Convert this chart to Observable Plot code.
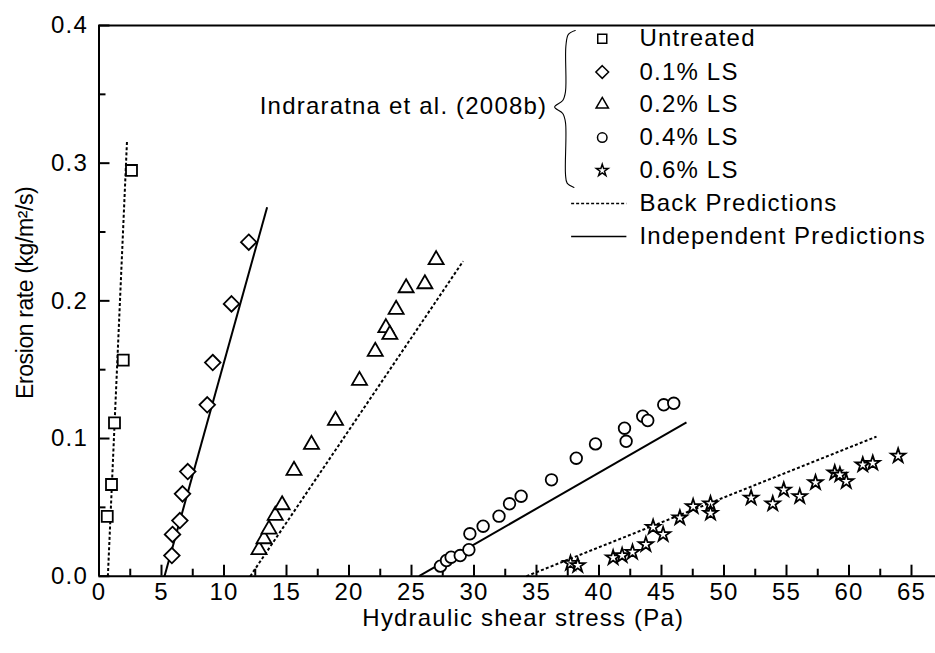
<!DOCTYPE html>
<html>
<head>
<meta charset="utf-8">
<script src="https://cdn.jsdelivr.net/npm/d3@7"></script>
<script src="https://cdn.jsdelivr.net/npm/@observablehq/plot@0.6"></script>
<style>
  html, body { margin: 0; padding: 0; background: #fff; }
</style>
</head>
<body>
<div id="chart"></div>
<script>
// ---- data ----
const untreatedX = [0.66, 1.0, 1.24, 1.94, 2.6];
const untreatedY = [0.0434, 0.0666, 0.1114, 0.157, 0.2947];

const ls01X = [5.83, 5.88, 6.47, 6.68, 7.1, 8.66, 9.1, 10.6, 11.98];
const ls01Y = [0.015, 0.0303, 0.0404, 0.0598, 0.076, 0.1245, 0.1552, 0.1978, 0.2426];

const ls02X = [12.8, 13.2, 13.6, 14.1, 14.65, 15.6, 17.0, 18.92, 20.84, 22.1, 22.95, 23.27, 23.77, 24.57, 26.07, 26.97];
const ls02Y = [0.0192, 0.0271, 0.0341, 0.0441, 0.0518, 0.0768, 0.0956, 0.1131, 0.1421, 0.1632, 0.1804, 0.1755, 0.1937, 0.2094, 0.2123, 0.2298];

const ls04X = [27.32, 27.8, 28.17, 28.9, 29.59, 29.67, 30.73, 32.0, 32.84, 33.77, 36.2, 38.18, 39.72, 42.04, 42.17, 43.5, 43.9, 45.18, 45.98];
const ls04Y = [0.0073, 0.0114, 0.0138, 0.015, 0.0192, 0.0308, 0.0363, 0.0436, 0.0526, 0.0581, 0.07, 0.0857, 0.0961, 0.1075, 0.098, 0.1162, 0.1131, 0.1245, 0.1256];

const ls06X = [37.72, 38.3, 41.13, 41.85, 42.68, 43.75, 44.33, 45.13, 46.47, 47.53, 48.92, 48.92, 52.17, 53.9, 54.78, 56.06, 57.32, 58.86, 59.27, 59.78, 61.1, 61.9, 63.93];
const ls06Y = [0.0094, 0.0078, 0.0134, 0.015, 0.0174, 0.023, 0.0356, 0.0303, 0.0424, 0.0506, 0.0526, 0.0458, 0.0569, 0.0526, 0.0627, 0.0579, 0.068, 0.0751, 0.0736, 0.0688, 0.0809, 0.0821, 0.0874];

// prediction lines (one per series)
const lineType = ["back", "indep", "back", "indep", "back"];
const lineX0 = [0.71, 5.24, 12.1, 25.6, 34.2];
const lineY0 = [0, 0, 0, 0, 0];
const lineX1 = [2.24, 13.45, 29.13, 47.0, 62.2];
const lineY1 = [0.316, 0.268, 0.2288, 0.1118, 0.1014];

// axis ticks
const xMajor = [0, 5, 10, 15, 20, 25, 30, 35, 40, 45, 50, 55, 60, 65];
const xMinor = [2.5, 7.5, 12.5, 17.5, 22.5, 27.5, 32.5, 37.5, 42.5, 47.5, 52.5, 57.5, 62.5];
const yMajor = [0, 0.1, 0.2, 0.3, 0.4];
const yMinor = [0.05, 0.15, 0.25, 0.35];

// legend
const legendLabels = ["Untreated", "0.1% LS", "0.2% LS", "0.4% LS", "0.6% LS"];
const legendSymbols = ["square", "diamond2", "triangle", "circle", "star"];
const legendRowY = [0.3904, 0.3662, 0.3426, 0.3186, 0.2947];
const legendLineLabels = ["Back Predictions", "Independent Predictions"];
const legendLineRowY = [0.2707, 0.2467];
const legendSymX = 40.26, legendTextX = 43.24, legendLineX0 = 37.77, legendLineX1 = 42.19;
const sourceLabel = "Indraratna et al. (2008b)";
const sourceX = 35.86, sourceY = 0.3415;
const braceX = [38.1, 37.55, 37.35, 37.32, 37.1, 36.45, 37.1, 37.32, 37.32, 37.45, 38.0];
const braceY = [0.3963, 0.3935, 0.385, 0.352, 0.3455, 0.3408, 0.3361, 0.3295, 0.292, 0.2855, 0.2824];

// ---- build tables ----
const seriesX = [untreatedX, ls01X, ls02X, ls04X, ls06X];
const seriesY = [untreatedY, ls01Y, ls02Y, ls04Y, ls06Y];
const symbolR = {square: 6.2, diamond2: 7.0, triangle: 5.6, circle: 5.8, star: 4.5};

const pointMarks = seriesX.map((xs, s) =>
  Plot.dot(xs.map((x, i) => ({x, y: seriesY[s][i]})), {
    x: "x", y: "y", symbol: legendSymbols[s], r: symbolR[legendSymbols[s]],
    stroke: "black", strokeWidth: 1.8, fill: "white"
  })
);

const lines = lineType.map((t, i) => ({t, x1: lineX0[i], y1: lineY0[i], x2: lineX1[i], y2: lineY1[i]}));

const legendPointMarks = legendSymbols.map((sym, i) =>
  Plot.dot([{x: legendSymX, y: legendRowY[i]}], {
    x: "x", y: "y", symbol: sym, r: symbolR[sym] * 0.82,
    stroke: "black", strokeWidth: 1.5, fill: "white"
  })
);

const fontFamily = "'Liberation Sans', Arial, Helvetica, sans-serif";

const chart = Plot.plot({
  width: 935,
  height: 653,
  marginLeft: 98.5,
  marginRight: 0,
  marginTop: 25,
  marginBottom: 77.3,
  x: {domain: [0, 66.92]},
  y: {domain: [0, 0.4]},
  style: {fontFamily, fontSize: "24px", color: "black", background: "white", overflow: "visible", letterSpacing: "1.2px"},
  marks: [
    // frame lines
    Plot.ruleY([0], {strokeWidth: 2, stroke: "black"}),
    Plot.ruleY([0.4], {strokeWidth: 2, stroke: "black"}),
    Plot.ruleX([0], {strokeWidth: 2, stroke: "black"}),
    // inward ticks
    Plot.ruleX(xMajor, {x: d => d, y1: 0, y2: 0, insetTop: -11, strokeWidth: 2}),
    Plot.ruleX(xMinor, {x: d => d, y1: 0, y2: 0, insetTop: -7, strokeWidth: 2}),
    Plot.ruleY(yMajor, {y: d => d, x1: 0, x2: 0, insetRight: -11, strokeWidth: 2}),
    Plot.ruleY(yMinor, {y: d => d, x1: 0, x2: 0, insetRight: -7, strokeWidth: 2}),
    // tick labels
    Plot.axisX({ticks: xMajor, tickSize: 0, tickPadding: 7, tickFormat: d => String(d), label: null, fontSize: 24}),
    Plot.axisY({ticks: yMajor, tickSize: 0, tickPadding: 11, tickFormat: d3.format(".1f"), label: null, fontSize: 24}),
    // axis titles
    Plot.text(["Hydraulic shear stress (Pa)"], {frameAnchor: "bottom", dx: 6, dy: 42, lineAnchor: "middle", fontSize: 24}),
    Plot.text(["Erosion rate (kg/m\u00B2/s)"], {frameAnchor: "left", textAnchor: "middle", rotate: -90, dx: -73, dy: -8, lineAnchor: "middle", fontSize: 23}),
    // prediction lines
    Plot.link(lines.filter(d => d.t === "back"), {x1: "x1", y1: "y1", x2: "x2", y2: "y2", stroke: "black", strokeWidth: 2, strokeDasharray: "3,2.2"}),
    Plot.link(lines.filter(d => d.t === "indep"), {x1: "x1", y1: "y1", x2: "x2", y2: "y2", stroke: "black", strokeWidth: 2}),
    // data points
    ...pointMarks,
    // legend
    ...legendPointMarks,
    Plot.text(legendLabels, {x: legendTextX, y: (d, i) => legendRowY[i], text: d => d, textAnchor: "start", lineAnchor: "middle", fontSize: 24}),
    Plot.link([0], {x1: legendLineX0, x2: legendLineX1, y1: legendLineRowY[0], y2: legendLineRowY[0], stroke: "black", strokeWidth: 1.6, strokeDasharray: "3,2"}),
    Plot.link([0], {x1: legendLineX0, x2: legendLineX1, y1: legendLineRowY[1], y2: legendLineRowY[1], stroke: "black", strokeWidth: 1.6}),
    Plot.text(legendLineLabels, {x: legendTextX, y: (d, i) => legendLineRowY[i], text: d => d, textAnchor: "start", lineAnchor: "middle", fontSize: 24}),
    Plot.line(braceX.map((x, i) => ({x, y: braceY[i]})), {x: "x", y: "y", curve: "catmull-rom", stroke: "black", strokeWidth: 1.1}),
    Plot.text([sourceLabel], {x: sourceX, y: sourceY, textAnchor: "end", lineAnchor: "middle", fontSize: 24})
  ]
});

d3.select(chart).selectAll("text")
  .filter(function () { return this.textContent.startsWith("Erosion"); })
  .style("letter-spacing", "-0.4px");

document.getElementById("chart").appendChild(chart);
</script>
</body>
</html>
